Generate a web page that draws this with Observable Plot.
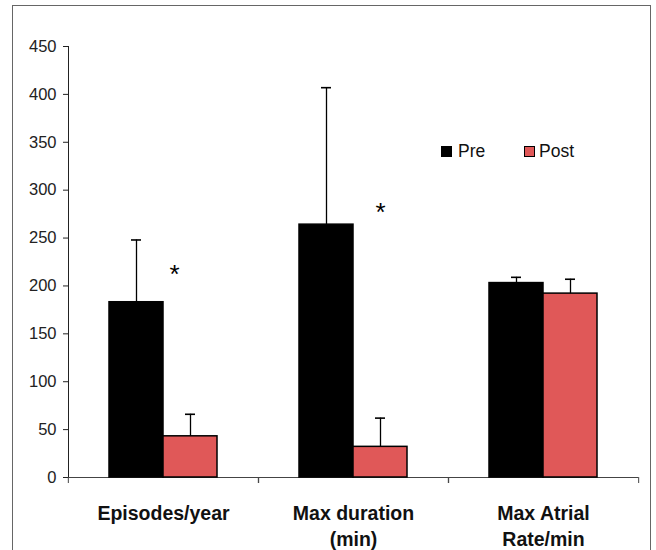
<!DOCTYPE html>
<html><head><meta charset="utf-8">
<script src="https://cdn.jsdelivr.net/npm/d3@7"></script>
<script src="https://cdn.jsdelivr.net/npm/@observablehq/plot@0.6"></script>
<style>
body{margin:0;background:#fff;overflow:hidden;width:656px;height:550px;position:relative;font-family:"Liberation Sans",Arial,sans-serif}
#chart{position:absolute;left:0;top:0}
#frame{position:absolute;left:12px;top:5px;width:637px;height:620px;border:1.5px solid #666;pointer-events:none}
.lg{position:absolute;font-size:17.5px;color:#111;line-height:1}
.sw{position:absolute;width:11px;height:11px;box-sizing:border-box}
</style></head><body>
<div id="chart"></div>
<div id="frame"></div>
<div id="legend"></div>
<script>
const categories = ["Episodes/year", "Max duration\n(min)", "Max Atrial\nRate/min"];
const groups = ["Pre", "Post"];
const groupColors = ["#000000", "#e05858"];
const preValues = [183, 264, 203];
const preErrors = [65, 143, 6];
const postValues = [43, 32, 192];
const postErrors = [23, 30, 15];
const yTicks = [0, 50, 100, 150, 200, 250, 300, 350, 400, 450];
const starCategories = [categories[0], categories[1]];
const starValues = [218.6, 283.8];

const rows = categories.flatMap((c, i) => [
  {category: c, group: "Pre", value: preValues[i], err: preErrors[i]},
  {category: c, group: "Post", value: postValues[i], err: postErrors[i]}
]);
const stars = starCategories.map((c, i) => ({category: c, group: "Post", y: starValues[i]}));

const bandHalf = (656 - 67 - 18) / 3 / 2;

const chart = Plot.plot({
  width: 656, height: 550,
  marginLeft: 67, marginRight: 18, marginTop: 46, marginBottom: 73,
  style: {fontFamily: '"Liberation Sans", Arial, sans-serif', fontSize: "16.5px", color: "#222", background: "transparent"},
  fx: {domain: categories, padding: 0, label: null},
  x: {domain: groups, paddingInner: 0, paddingOuter: 0.746, axis: null},
  y: {domain: [0, 450], ticks: yTicks, tickSize: 5, tickPadding: 7, line: true, label: null},
  color: {domain: groups, range: groupColors},
  marks: [
    Plot.axisFx({anchor: "bottom", tickSize: 0, tickPadding: 24, fontSize: 19.5, fontWeight: "bold", lineHeight: 1.33, label: null, fill: "#111"}),
    Plot.axisFx({anchor: "bottom", tickSize: 6, tickFormat: () => "", dx: bandHalf, label: null, stroke: "#444"}),
    Plot.axisFx({anchor: "bottom", tickSize: 6, tickFormat: () => "", dx: -bandHalf, label: null, stroke: "#444"}),
    Plot.ruleY([0], {stroke: "#444"}),
    Plot.barY(rows, {fx: "category", x: "group", y: "value", fill: "group", stroke: "#000", strokeWidth: 1.5}),
    Plot.ruleX(rows, {fx: "category", x: "group", y1: "value", y2: d => d.value + d.err, stroke: "#000", strokeWidth: 1.3}),
    Plot.tickY(rows, {fx: "category", x: "group", y: d => d.value + d.err, insetLeft: 22, insetRight: 22, stroke: "#000", strokeWidth: 1.6}),
    Plot.text(stars.slice(0, 1), {fx: "category", x: "group", y: "y", text: () => "*", fontSize: 26, dx: -16, dy: 6.5, fill: "#000"}),
    Plot.text(stars.slice(1), {fx: "category", x: "group", y: "y", text: () => "*", fontSize: 26, dy: 6.5, fill: "#000"})
  ]
});
document.getElementById("chart").append(chart);

const legend = document.getElementById("legend");
const legendPos = [{sx: 441, tx: 458}, {sx: 524, tx: 539}];
groups.forEach((g, i) => {
  const sw = document.createElement("div");
  sw.className = "sw";
  sw.style.left = legendPos[i].sx + "px";
  sw.style.top = "146px";
  sw.style.background = groupColors[i];
  sw.style.border = "1px solid #000";
  legend.append(sw);
  const t = document.createElement("div");
  t.className = "lg";
  t.style.left = legendPos[i].tx + "px";
  t.style.top = "143px";
  t.textContent = g;
  legend.append(t);
});
</script>
</body></html>
